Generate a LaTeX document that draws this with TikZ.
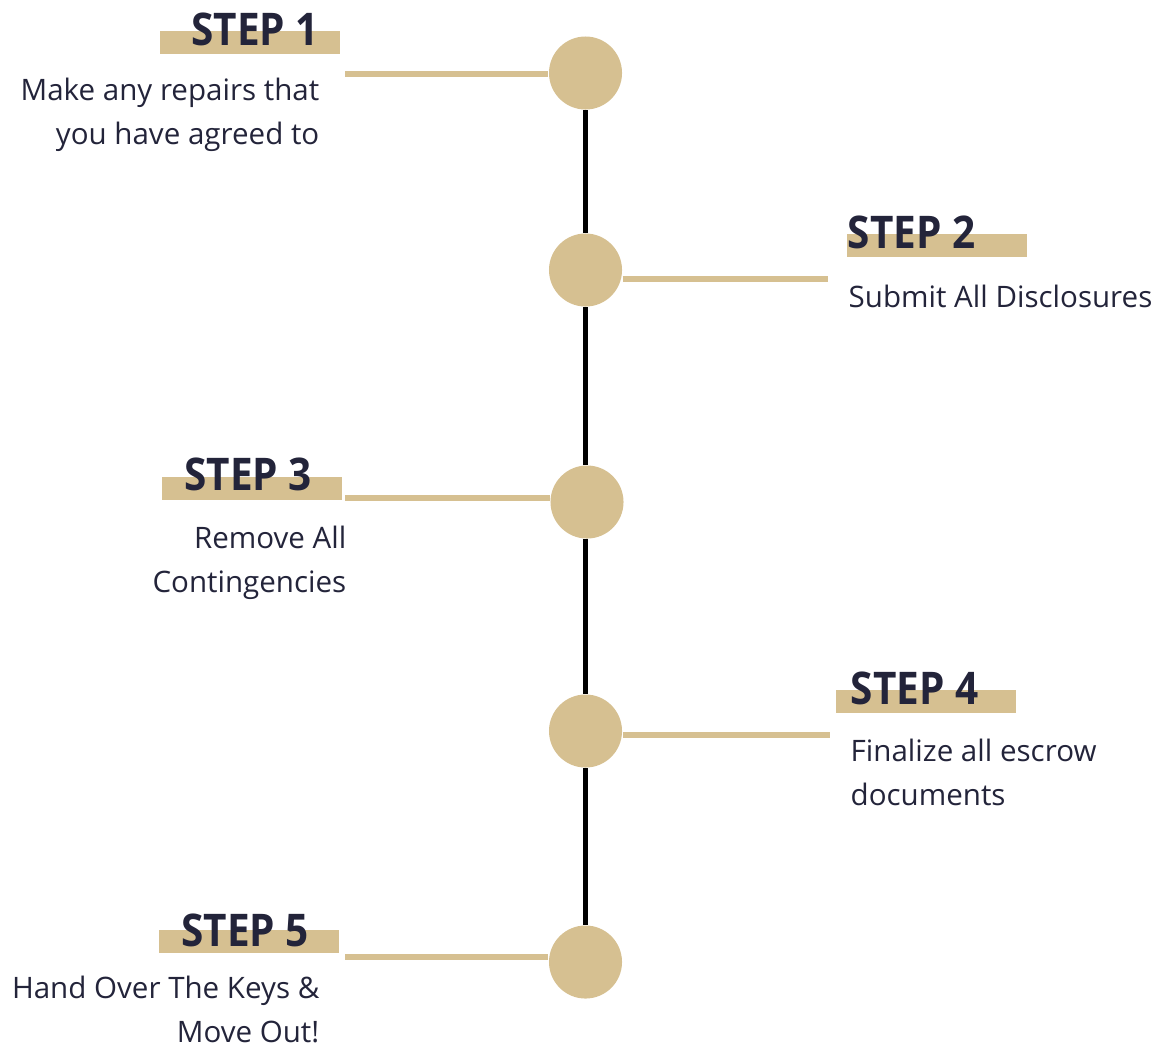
\documentclass[tikz,border=0pt]{standalone}
\usepackage{fontspec}
\setmainfont{Open Sans}[BoldFeatures={FakeStretch=0.9}]
\definecolor{tan}{RGB}{214,192,145}
\definecolor{ink}{RGB}{35,36,58}
\tikzset{
  dot/.style={circle,fill=tan,minimum size=0.73cm,inner sep=0pt},
  bar/.style={rectangle,fill=tan,minimum width=1.8cm,minimum height=0.23cm,inner sep=0pt},
  steplabel/.style={text=ink,font=\fontsize{12.8}{15}\selectfont\bfseries,inner sep=0pt,anchor=base},
  desc/.style={text=ink,font=\fontsize{8.4}{12.5}\selectfont,inner sep=0pt},
  link/.style={draw=tan,line width=0.06cm},
  spine/.style={draw=black,line width=0.05cm}
}

\begin{document}
\begin{tikzpicture}[x=0.01cm,y=-0.01cm]
  \useasboundingbox (0,0) rectangle (1158,1044);
  % the dots on the time line
  \node[dot] (dot1) at (585.5,73)  {};
  \node[dot] (dot2) at (585.5,270) {};
  \node[dot] (dot3) at (587,502)   {};
  \node[dot] (dot4) at (585.5,731) {};
  \node[dot] (dot5) at (585.5,962) {};
  \draw[spine] (dot1.south) -- (dot2.north);
  \draw[spine] (dot2.south) -- (dot3.north -| dot2);
  \draw[spine] (dot3.south -| dot2) -- (dot4.north);
  \draw[spine] (dot4.south) -- (dot5.north);
  % step 1 (left)
  \node[bar]       (bar1)  at (250,42)  {};
  \node[steplabel] (step1) at (255,45)  {STEP 1};
  \node[desc,anchor=base east,align=right] (txt1) at (320,144) {Make any repairs that\\you have agreed to};
  \coordinate (end1) at (345,74);
  \draw[link] (end1) -- (end1 -| dot1.west);
  % step 2 (right)
  \node[bar]       (bar2)  at (937,245) {};
  \node[steplabel,anchor=base west] (step2) at (847,248) {STEP 2};
  \node[desc,anchor=base west,align=left] (txt2) at (848,307) {Submit All Disclosures};
  \coordinate (end2) at (828,279);
  \draw[link] (dot2.east |- end2) -- (end2);
  % step 3 (left)
  \node[bar]       (bar3)  at (252,488) {};
  \node[steplabel] (step3) at (248,490) {STEP 3};
  \node[desc,anchor=base east,align=right] (txt3) at (347,592) {Remove All\\Contingencies};
  \coordinate (end3) at (345,498);
  \draw[link] (end3) -- (end3 -| dot3.west);
  % step 4 (right)
  \node[bar]       (bar4)  at (926,701) {};
  \node[steplabel,anchor=base west] (step4) at (850,704) {STEP 4};
  \node[desc,anchor=base west,align=left] (txt4) at (850,805) {Finalize all escrow\\documents};
  \coordinate (end4) at (830,735);
  \draw[link] (dot4.east |- end4) -- (end4);
  % step 5 (left)
  \node[bar]       (bar5)  at (249,941) {};
  \node[steplabel] (step5) at (245,946) {STEP 5};
  \node[desc,anchor=base east,align=right] (txt5) at (320,1042) {Hand Over The Keys \&\\Move Out!};
  \coordinate (end5) at (345,957);
  \draw[link] (end5) -- (end5 -| dot5.west);
\end{tikzpicture}
\end{document}
